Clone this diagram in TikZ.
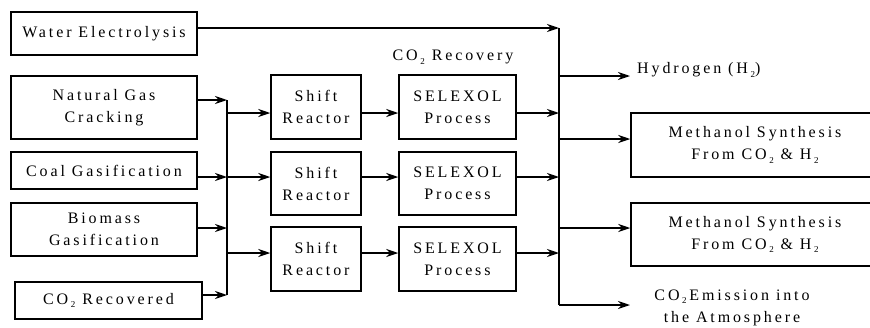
\documentclass[tikz,border=0pt]{standalone}
\usepackage{fontspec}
\setmainfont{Liberation Serif}[LetterSpace=18]
\usetikzlibrary{arrows.meta}
\newcommand\subtwo{\,\raisebox{-3.5pt}{\fontsize{9}{9}\selectfont 2}}
\begin{document}
\begin{tikzpicture}[x=1pt,y=-1pt,
  every node/.style={font=\fontsize{16}{22}\selectfont, inner sep=0pt},
  blk/.style={draw, line width=1.5pt, align=center, rectangle},
  flow/.style={line width=1.5pt, -{Stealth[length=12pt,width=8pt,inset=4pt]}},
  bus/.style={line width=1.5pt}]
\clip (0,0) rectangle (870,327);
% left boxes
\node[blk, minimum width=186pt, minimum height=43pt] (we) at (104,33.5) {Water Electrolysis};
\node[blk, minimum width=186pt, minimum height=63pt] (ng) at (104,107.5) {Natural Gas\\Cracking};
\node[blk, minimum width=186pt, minimum height=37pt] (cg) at (104,170.5) {Coal Gasification};
\node[blk, minimum width=186pt, minimum height=53pt] (bg) at (104,229.5) {Biomass\\Gasification};
\node[blk, minimum width=187pt, minimum height=37pt] (cr) at (108.5,300.5) {CO\subtwo{} Recovered};
% shift reactors
\node[blk, minimum width=90pt, minimum height=64pt] (sr1) at (316,107) {Shift\\Reactor};
\node[blk, minimum width=90pt, minimum height=63pt] (sr2) at (316,183.5) {Shift\\Reactor};
\node[blk, minimum width=90pt, minimum height=64pt] (sr3) at (316,259) {Shift\\Reactor};
% selexol
\node[blk, minimum width=117pt, minimum height=64pt] (sx1) at (457.5,107) {SELEXOL\\Process};
\node[blk, minimum width=117pt, minimum height=63pt] (sx2) at (457.5,183.5) {SELEXOL\\Process};
\node[blk, minimum width=117pt, minimum height=64pt] (sx3) at (457.5,259) {SELEXOL\\Process};
\node (lab) at (453,57) {CO\subtwo{} Recovery};
% methanol
\node[blk, minimum width=248pt, minimum height=64pt] (m1) at (755,145) {Methanol Synthesis\\From CO\subtwo{} \& H\subtwo};
\node[blk, minimum width=248pt, minimum height=63pt] (m2) at (755,234.5) {Methanol Synthesis\\From CO\subtwo{} \& H\subtwo};
\node[anchor=west] (h2) at (637,70) {Hydrogen (H\subtwo)};
\node[align=center] (em) at (732,307.5) {CO\subtwo{}\,Emission into\\the Atmosphere};
% bus coordinates
\coordinate (lt) at (227,100);
\coordinate (lb) at (227,295);
\coordinate (l1) at (227,113);
\coordinate (l2) at (227,177);
\coordinate (l3) at (227,253);
\coordinate (lc) at (227,228);
\coordinate (rt) at (559,28);
\coordinate (rb) at (559,305);
\coordinate (r1) at (559,113);
\coordinate (r2) at (559,177);
\coordinate (r3) at (559,253);
\coordinate (rh) at (559,76);
\coordinate (rm1) at (559,139);
\coordinate (rm2) at (559,228);
\coordinate (re) at (630,305);
\coordinate (he) at (630,76);
% buses
\draw[bus] (lt) -- (lb);
\draw[bus] (rt) -- (rb);
% inputs to left bus
\draw[flow] (ng.east |- lt) -- (lt);
\draw[flow] (cg.east |- l2) -- (l2);
\draw[flow] (bg.east |- lc) -- (lc);
\draw[flow] (cr.east |- lb) -- (lb);
% left bus to shift reactors
\draw[flow] (l1) -- (sr1.west |- l1);
\draw[flow] (l2) -- (sr2.west |- l2);
\draw[flow] (l3) -- (sr3.west |- l3);
% shift to selexol
\draw[flow] (sr1.east |- l1) -- (sx1.west |- l1);
\draw[flow] (sr2.east |- l2) -- (sx2.west |- l2);
\draw[flow] (sr3.east |- l3) -- (sx3.west |- l3);
% selexol to right bus
\draw[flow] (sx1.east |- r1) -- (r1);
\draw[flow] (sx2.east |- r2) -- (r2);
\draw[flow] (sx3.east |- r3) -- (r3);
\draw[flow] (we.east |- rt) -- (rt);
% right bus outputs
\draw[flow] (rh) -- (he);
\draw[flow] (rm1) -- (m1.west |- rm1);
\draw[flow] (rm2) -- (m2.west |- rm2);
\draw[flow] (rb) -- (re);
\end{tikzpicture}
\end{document}
